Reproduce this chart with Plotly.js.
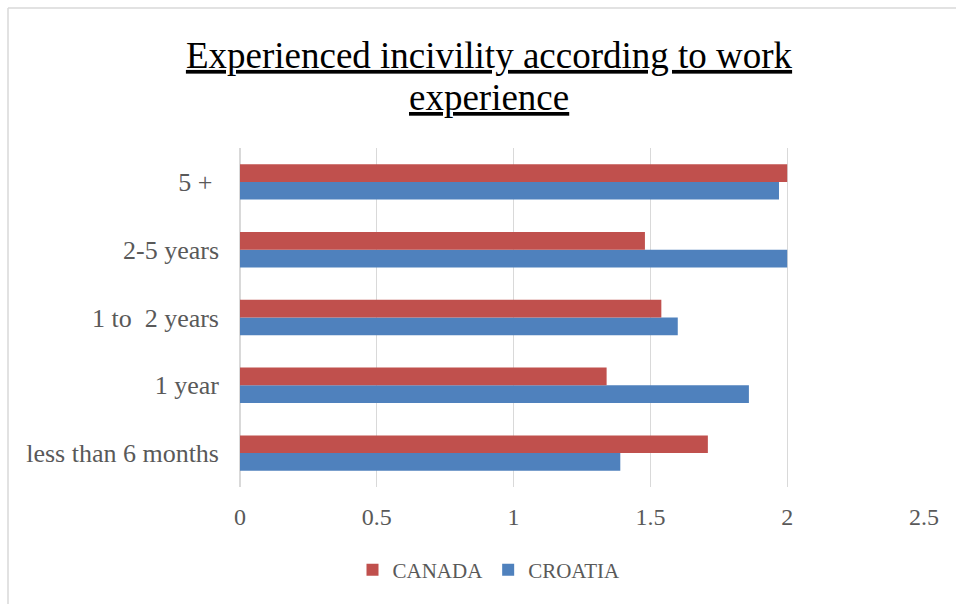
<!DOCTYPE html>
<html>
<head>
<meta charset="utf-8">
<script src="https://cdn.plot.ly/plotly-3.0.1.min.js"></script>
<style>html,body{margin:0;padding:0;background:#fff;}#chart{width:956px;height:604px;}</style>
</head>
<body>
<div id="chart"></div>
<script>
const categories = ['less than 6 months', '1 year', '1 to\u00a0 2 years', '2-5 years', '5 +\u00a0'];
const canada = [1.71, 1.34, 1.54, 1.48, 2.00];
const croatia = [1.39, 1.86, 1.60, 2.00, 1.97];
const xTicks = [0, 0.5, 1, 1.5, 2, 2.5];

const W = 956, H = 604;
const M = {l: 240, r: 32, t: 148, b: 117};
const pw = W - M.l - M.r, ph = H - M.t - M.b;
const px = x => (x - M.l) / pw;
const py = y => (H - M.b - y) / ph;

const serif = 'Liberation Serif, Times New Roman, serif';
const gray = '#595959';

const traces = [
  {type: 'bar', orientation: 'h', name: 'CROATIA', y: categories, x: croatia,
   marker: {color: '#4F81BD'}, hoverinfo: 'x+name'},
  {type: 'bar', orientation: 'h', name: 'CANADA', y: categories, x: canada,
   marker: {color: '#C0504D'}, hoverinfo: 'x+name'}
];

const layout = {
  width: W, height: H,
  margin: M,
  paper_bgcolor: '#fff', plot_bgcolor: '#fff',
  barmode: 'group', bargap: 0.478, bargroupgap: 0,
  font: {family: serif, color: gray},
  title: {
    text: '<u>Experienced incivility according to work</u>',
    font: {family: serif, size: 37, color: '#000'},
    x: 489 / W, xref: 'container', xanchor: 'center',
    y: 1 - 55 / H, yref: 'container', yanchor: 'middle'
  },
  annotations: [{
    text: '<u>experience</u>', showarrow: false,
    xref: 'paper', yref: 'paper', x: px(489), y: py(97),
    xanchor: 'center', yanchor: 'middle',
    font: {family: serif, size: 37, color: '#000'}
  }],
  xaxis: {
    range: [0, 2.5], tickvals: xTicks, ticktext: xTicks.map(String),
    showgrid: true, gridcolor: '#d9d9d9', gridwidth: 1.3,
    zeroline: true, zerolinecolor: '#d9d9d9', zerolinewidth: 1.3,
    showline: false, ticks: '', ticklabelstandoff: 13,
    tickfont: {family: serif, size: 24, color: gray}, fixedrange: true
  },
  yaxis: {
    type: 'category', range: [-0.5, 4.5],
    showgrid: false, zeroline: false, showline: false, ticks: '',
    ticklabelstandoff: 20,
    tickfont: {family: serif, size: 26, color: gray}, fixedrange: true
  },
  legend: {
    orientation: 'h', traceorder: 'reversed',
    x: px(489), xanchor: 'center', y: py(570), yanchor: 'middle',
    font: {family: serif, size: 21, color: gray}, bgcolor: 'rgba(0,0,0,0)'
  },
  shapes: [
    {type: 'line', xref: 'paper', yref: 'paper', x0: px(8), x1: px(970), y0: py(8), y1: py(8),
     line: {color: '#d9d9d9', width: 1.5}},
    {type: 'line', xref: 'paper', yref: 'paper', x0: px(8), x1: px(8), y0: py(8), y1: py(620),
     line: {color: '#d9d9d9', width: 1.5}}
  ],
  showlegend: true
};

Plotly.newPlot('chart', traces, layout, {displayModeBar: false, staticPlot: true});
</script>
</body>
</html>
